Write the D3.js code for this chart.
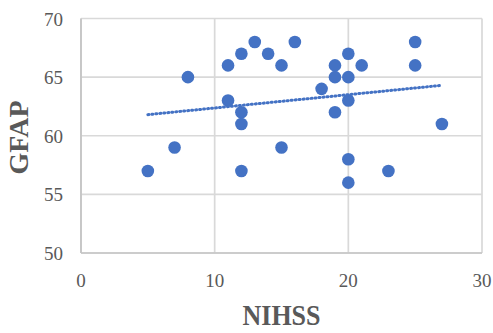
<!DOCTYPE html>
<html>
<head>
<meta charset="utf-8">
<script src="https://cdn.jsdelivr.net/npm/d3@7"></script>
<style>
  body { margin: 0; background: #fff; }
  svg { display: block; }
</style>
</head>
<body>
<svg width="493" height="333"></svg>
<script>
// NIHSS vs GFAP scatter
const nihss = [5, 7, 8, 11, 11, 12, 12, 12, 12, 13, 14, 15, 15, 16, 18, 19, 19, 19, 20, 20, 20, 20, 20, 21, 23, 25, 25, 27];
const gfap  = [57, 59, 65, 66, 63, 67, 62, 61, 57, 68, 67, 66, 59, 68, 64, 66, 65, 62, 67, 65, 63, 58, 56, 66, 57, 68, 66, 61];
const xTicks = [0, 10, 20, 30];
const yTicks = [50, 55, 60, 65, 70];
// linear trendline ends
const trendX = [5, 27];
const trendY = [61.8, 64.3];

const points = nihss.map((d, i) => ({ x: d, y: gfap[i] }));

const svg = d3.select("svg");
const x = d3.scaleLinear().domain([0, 30]).range([81, 482]);
const y = d3.scaleLinear().domain([50, 70]).range([253, 18.5]);

// gridlines
svg.append("g")
  .selectAll("line")
  .data(yTicks)
  .join("line")
  .attr("x1", x(0))
  .attr("x2", x(30))
  .attr("y1", d => y(d))
  .attr("y2", d => y(d))
  .style("stroke", "#d9d9d9")
  .style("stroke-width", "1.7px");

svg.append("g")
  .selectAll("line")
  .data(xTicks)
  .join("line")
  .attr("x1", d => x(d))
  .attr("x2", d => x(d))
  .attr("y1", y(50))
  .attr("y2", y(70))
  .style("stroke", "#d9d9d9")
  .style("stroke-width", "1.7px");

// axis lines
svg.append("line")
  .attr("x1", x(0)).attr("x2", x(30))
  .attr("y1", y(50)).attr("y2", y(50))
  .style("stroke", "#c4c4c4")
  .style("stroke-width", "1.7px");
svg.append("line")
  .attr("x1", x(0)).attr("x2", x(0))
  .attr("y1", y(50)).attr("y2", y(70))
  .style("stroke", "#c4c4c4")
  .style("stroke-width", "1.7px");

// tick labels
svg.append("g")
  .selectAll("text")
  .data(yTicks)
  .join("text")
  .attr("x", 63)
  .attr("y", d => y(d) + 7)
  .attr("text-anchor", "end")
  .style("font-family", "'Liberation Serif', serif")
  .style("font-size", "19px")
  .style("fill", "#595959")
  .text(d => d);

svg.append("g")
  .selectAll("text")
  .data(xTicks)
  .join("text")
  .attr("x", d => x(d))
  .attr("y", 287)
  .attr("text-anchor", "middle")
  .style("font-family", "'Liberation Serif', serif")
  .style("font-size", "19px")
  .style("fill", "#595959")
  .text(d => d);

// axis titles
svg.append("text")
  .attr("transform", "translate(281.5,325) scale(1,1.15)")
  .attr("text-anchor", "middle")
  .style("font-family", "'Liberation Serif', serif")
  .style("font-weight", "bold")
  .style("font-size", "26px")
  .style("fill", "#595959")
  .text("NIHSS");

svg.append("text")
  .attr("transform", "translate(28,137.5) rotate(-90)")
  .attr("text-anchor", "middle")
  .style("font-family", "'Liberation Serif', serif")
  .style("font-weight", "bold")
  .style("font-size", "28px")
  .style("fill", "#595959")
  .text("GFAP");

// points
svg.append("g")
  .selectAll("circle")
  .data(points)
  .join("circle")
  .attr("cx", d => x(d.x))
  .attr("cy", d => y(d.y))
  .attr("r", 6.3)
  .style("fill", "#4472c4");

// trendline
svg.append("path")
  .datum(trendX.map((d, i) => [d, trendY[i]]))
  .attr("d", d3.line().x(d => x(d[0])).y(d => y(d[1])))
  .style("fill", "none")
  .style("stroke", "#4472c4")
  .style("stroke-width", "3px")
  .style("stroke-dasharray", "1,3")
  .style("stroke-linecap", "round");
</script>
</body>
</html>
